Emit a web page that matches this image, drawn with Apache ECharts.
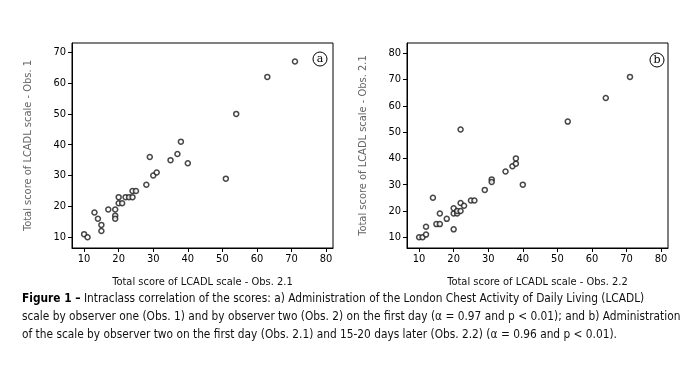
<!DOCTYPE html>
<html><head><meta charset="utf-8">
<script src="https://cdn.jsdelivr.net/npm/echarts@6/dist/echarts.min.js"></script>
<style>html,body{margin:0;padding:0;background:#fff}#c{width:699px;height:365px}</style>
</head><body><div id="c"></div>
<script>
// Panel a: x = Obs. 2.1, y = Obs. 1
var aX = [10,11,13,14,15,15,17,19,19,19,20,20,21,22,23,24,24,25,28,29,30,31,35,37,38,40,51,54,63,71];
var aY = [11,10,18,16,14,12,19,19,17,16,23,21,21,23,23,25,23,25,27,36,30,31,35,37,41,34,29,50,62,67];
// Panel b: x = Obs. 2.2, y = Obs. 2.1
var bX = [10,11,12,12,14,15,16,16,18,20,20,20,21,21,22,22,22,23,25,26,29,31,31,35,37,38,38,40,53,64,71];
var bY = [10,10,11,14,25,15,15,19,17,13,19,21,19,20,20,23,51,22,24,24,28,32,31,35,37,38,40,30,54,63,71];
var xTicks = [10,20,30,40,50,60,70,80];
var yTicksA = [10,20,30,40,50,60,70];
var yTicksB = [10,20,30,40,50,60,70,80];
var xNameA = 'Total score of LCADL scale - Obs. 2.1';
var yNameA = 'Total score of LCADL scale - Obs. 1';
var xNameB = 'Total score of LCADL scale - Obs. 2.2';
var yNameB = 'Total score of LCADL scale - Obs. 2.1';
var captionLines = [
  ['Figure 1 \u2013', ' Intraclass correlation of the scores: a) Administration of the London Chest Activity of Daily Living (LCADL)'],
  ['', 'scale by observer one (Obs. 1) and by observer two (Obs. 2) on the first day (\u03b1 = 0.97 and p < 0.01); and b) Administration'],
  ['', 'of the scale by observer two on the first day (Obs. 2.1) and 15-20 days later (Obs. 2.2) (\u03b1 = 0.96 and p < 0.01).']
];

function zip(xs, ys){ return xs.map(function(x,i){return [x, ys[i]];}); }
var FONT = "'DejaVu Sans Condensed',sans-serif";

function xAxis(gi, name, ticks){
  return {type:'value', gridIndex:gi, min:6.5, max:82, name:name, nameLocation:'middle', nameGap:29,
    nameTextStyle:{color:'#111', fontSize:11, fontFamily:FONT},
    splitLine:{show:false},
    axisLine:{show:true, lineStyle:{color:'#000', width:1}},
    axisTick:{show:true, length:4, customValues:ticks, lineStyle:{color:'#000'}},
    axisLabel:{customValues:ticks, color:'#000', fontSize:11, fontFamily:FONT, margin:6}};
}
function yAxis(gi, name, min, max, ticks){
  return {type:'value', gridIndex:gi, min:min, max:max, name:name, nameLocation:'middle', nameGap:38,
    nameTextStyle:{color:'#666', fontSize:11, fontFamily:FONT},
    splitLine:{show:false},
    axisLine:{show:true, lineStyle:{color:'#000', width:1}},
    axisTick:{show:true, length:4, customValues:ticks, lineStyle:{color:'#000'}},
    axisLabel:{customValues:ticks, color:'#000', fontSize:11, fontFamily:FONT, margin:6}};
}
var sym = {symbol:'circle', symbolSize:5, itemStyle:{color:'#fff', borderColor:'#1a1a1a', borderWidth:1.5}};

var graphics = [];
captionLines.forEach(function(l, i){
  graphics.push({type:'text', left:22, top:293 + i*18, style:{
    text:(l[0] ? '{b|' + l[0] + '}' : '') + '{n|' + l[1] + '}',
    rich:{b:{fontWeight:'bold', fontSize:11.8, fontFamily:FONT, fill:'#000'},
          n:{fontSize:11.8, fontFamily:FONT, fill:'#111'}}
  }});
});
[['a',320,59],['b',657,60]].forEach(function(p){
  graphics.push({type:'circle', shape:{cx:p[1], cy:p[2], r:7}, style:{fill:'#fff', stroke:'#000', lineWidth:1}});
  graphics.push({type:'text', x:p[1], y:p[2], style:{text:p[0], fill:'#000', fontSize:11, fontFamily:'DejaVu Serif', align:'center', verticalAlign:'middle'}});
});

var chart = echarts.init(document.getElementById('c'));
chart.setOption({
  animation:false,
  backgroundColor:'#fff',
  grid:[{left:72, right:366, top:43, bottom:117, show:true, borderColor:'#000', borderWidth:1},
        {left:407, right:31, top:43, bottom:117, show:true, borderColor:'#000', borderWidth:1}],
  xAxis:[xAxis(0, xNameA, xTicks), xAxis(1, xNameB, xTicks)],
  yAxis:[yAxis(0, yNameA, 6.5, 73, yTicksA), yAxis(1, yNameB, 5.9, 83.9, yTicksB)],
  series:[
    Object.assign({type:'scatter', xAxisIndex:0, yAxisIndex:0, data:zip(aX,aY)}, sym),
    Object.assign({type:'scatter', xAxisIndex:1, yAxisIndex:1, data:zip(bX,bY)}, sym)
  ],
  graphic:graphics
});
</script></body></html>
